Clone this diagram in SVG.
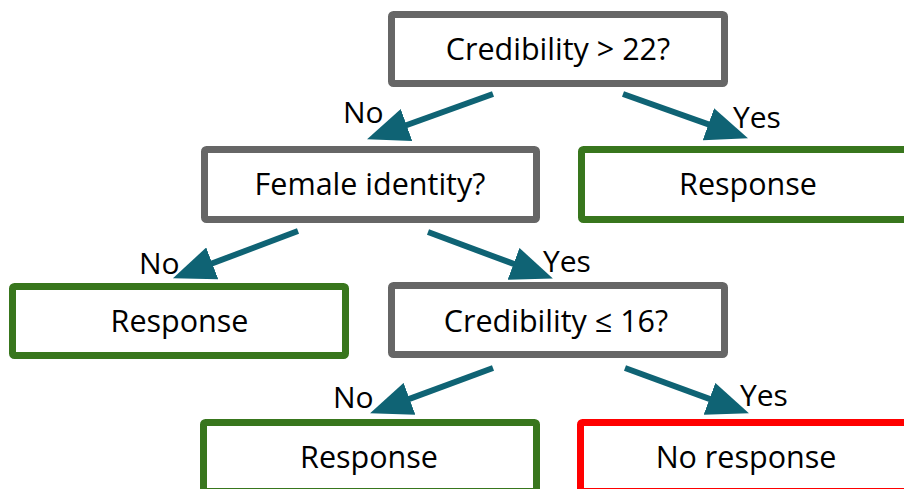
<svg xmlns="http://www.w3.org/2000/svg" width="904" height="489" viewBox="0 0 904 489">
<style>
.box{fill:#ffffff;stroke-width:7;stroke-linejoin:round}
.q{stroke:#666666}
.g{stroke:#38761d}
.r{stroke:#ff0000}
.t{font-family:"Open Sans","Noto Sans",sans-serif;font-size:30.5px;fill:#000000;text-anchor:middle}
.l{font-family:"Open Sans","Noto Sans",sans-serif;font-size:30px;fill:#000000}
.c{stroke:#0f6374;stroke-width:6;fill:none;marker-end:url(#ah)}
</style>
<defs>
<marker id="ah" markerUnits="userSpaceOnUse" markerWidth="42" markerHeight="34" refX="21" refY="17" orient="auto" viewBox="0 0 42 34">
<path d="M0,0 L42,17 L0,34 Z" fill="#0f6374"/>
</marker>
</defs>
<rect width="904" height="489" fill="#ffffff"/>
<g id="connectors">
<line class="c" x1="493" y1="94" x2="386.8" y2="132.2"/>
<line class="c" x1="623" y1="94" x2="728.2" y2="131.3"/>
<line class="c" x1="298" y1="231" x2="192.6" y2="270.8"/>
<line class="c" x1="428" y1="232" x2="533.2" y2="271.2"/>
<line class="c" x1="493" y1="368" x2="389.8" y2="406.1"/>
<line class="c" x1="625" y1="368" x2="729.2" y2="406.1"/>
<text class="l" x="343" y="123">No</text>
<text class="l" x="733" y="128">Yes</text>
<text class="l" x="139" y="274">No</text>
<text class="l" x="543" y="272">Yes</text>
<text class="l" x="333" y="408">No</text>
<text class="l" x="740" y="406">Yes</text>
</g>
<g id="n1"><rect class="box q" x="391.5" y="14.5" width="333" height="69" rx="2"/><text class="t" x="558" y="60">Credibility &gt; 22?</text></g>
<g id="n2"><rect class="box q" x="204.5" y="149.5" width="332" height="70" rx="2"/><text class="t" x="370" y="195">Female identity?</text></g>
<g id="n3"><rect class="box g" x="581.5" y="149.5" width="333" height="70" rx="2"/><text class="t" x="748" y="195">Response</text></g>
<g id="n4"><rect class="box g" x="12.5" y="286.5" width="333" height="69" rx="2"/><text class="t" x="179.5" y="332">Response</text></g>
<g id="n5"><rect class="box q" x="391.5" y="285.5" width="333" height="69" rx="2"/><text class="t" x="556" y="332">Credibility ≤ 16?</text></g>
<g id="n6"><rect class="box g" x="203.5" y="422.5" width="333" height="69" rx="2"/><text class="t" x="369" y="468">Response</text></g>
<g id="n7"><rect class="box r" x="580.5" y="422.5" width="333" height="69" rx="2"/><text class="t" x="746" y="468">No response</text></g>
</svg>
